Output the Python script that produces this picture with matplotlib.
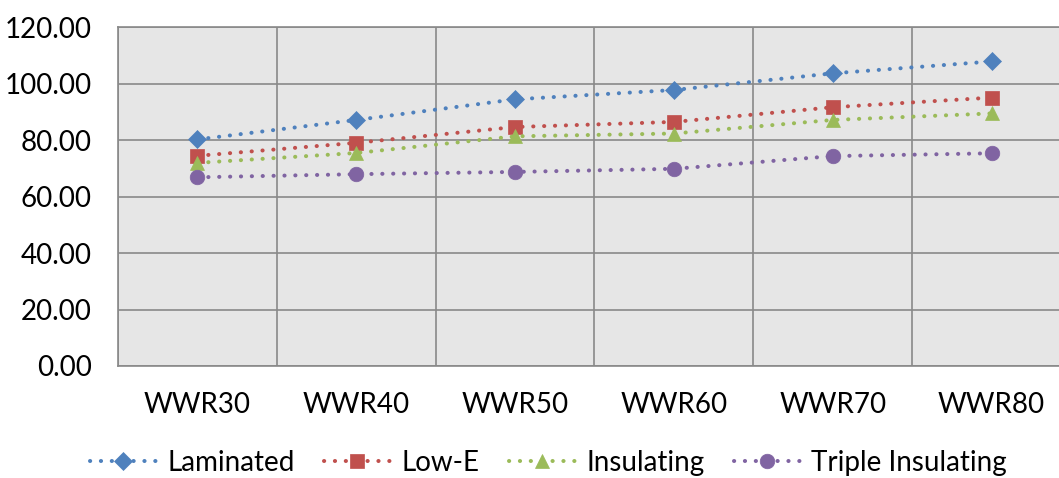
import matplotlib
matplotlib.use("Agg")
import matplotlib.pyplot as plt
import numpy as np

categories = ["WWR30", "WWR40", "WWR50", "WWR60", "WWR70", "WWR80"]
laminated = [80.2, 87.1, 94.4, 97.7, 103.6, 107.8]
low_e = [74.4, 79.0, 84.6, 86.4, 91.6, 95.0]
insulating = [71.9, 75.4, 81.3, 82.3, 87.1, 89.4]
triple_insulating = [66.8, 67.9, 68.7, 69.8, 74.3, 75.3]
y_ticks = [0, 20, 40, 60, 80, 100, 120]

series = [
    ("Laminated", laminated, "#4F81BD", "D", 9.3),
    ("Low-E", low_e, "#C0504D", "s", 10.0),
    ("Insulating", insulating, "#9BBB59", "^", 10.0),
    ("Triple Insulating", triple_insulating, "#8064A2", "o", 10.5),
]

plt.rcParams["font.family"] = ["Lato", "DejaVu Sans"]
FS = 20

fig = plt.figure(figsize=(10.59, 4.78), dpi=100)
ax = fig.add_axes([118 / 1059, 112 / 478, 953 / 1059, 339 / 478])
ax.set_facecolor("#E6E6E6")

x = np.arange(len(categories))
for name, vals, color, marker, ms in series:
    ax.plot(x, vals, color=color, linewidth=2.9, linestyle=(0, (0.05, 2.65)),
            dash_capstyle="round", marker=marker, markersize=ms,
            markerfacecolor=color, markeredgecolor=color, markeredgewidth=0.5,
            label=name, zorder=3)

ax.set_xlim(-0.5, len(categories) - 0.5)
ax.set_ylim(0, 120)
ax.set_yticks(y_ticks)
ax.set_yticklabels([f"{v:.2f}" for v in y_ticks])
ax.set_xticks(x)
ax.set_xticklabels(categories)
ax.set_xticks(np.arange(-0.5, len(categories), 1), minor=True)

grid_color = "#898989"
ax.grid(axis="y", which="major", color=grid_color, linewidth=1.2, zorder=1)
ax.grid(axis="x", which="minor", color=grid_color, linewidth=1.2, zorder=1)
ax.grid(axis="x", which="major", visible=False)
ax.set_axisbelow(True)

for side in ["left", "top", "bottom"]:
    ax.spines[side].set_color(grid_color)
    ax.spines[side].set_linewidth(1.2)
ax.spines["right"].set_visible(False)

ax.tick_params(axis="both", which="both", length=0, labelsize=FS, colors="black")
ax.tick_params(axis="y", pad=19)
ax.tick_params(axis="x", pad=19)

fig.legend(loc="center", bbox_to_anchor=(0.518, 1 - 463 / 478), ncol=4,
           frameon=False, fontsize=FS, handlelength=2.37, handletextpad=0.4,
           columnspacing=1.08)

fig.savefig("out.png", dpi=100)
